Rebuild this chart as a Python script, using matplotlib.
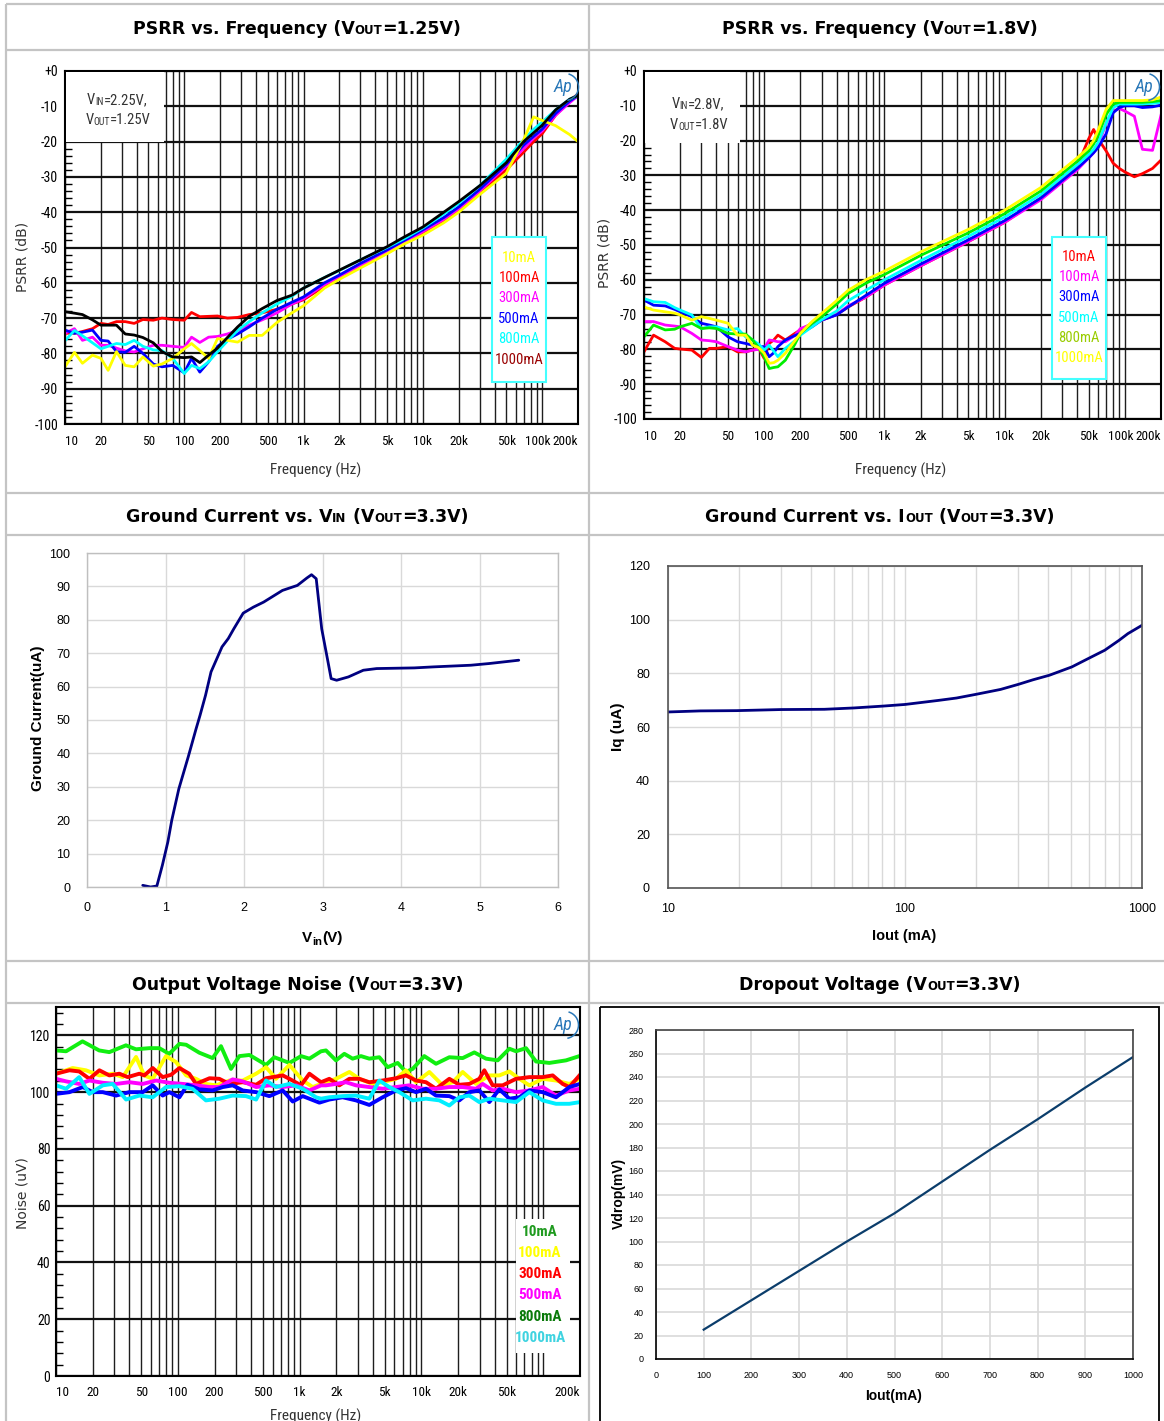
import matplotlib
matplotlib.use('Agg')
import matplotlib.pyplot as plt
from matplotlib import font_manager as fm
from matplotlib.patches import Rectangle, Arc
from matplotlib.ticker import MultipleLocator, NullFormatter, LogLocator
from matplotlib.transforms import ScaledTranslation

# ---------------- DATA ----------------
# Panel 1: PSRR vs Frequency (Vout=1.25V)
p1_freq = [10, 12, 14, 17, 20, 23, 27, 32, 38, 45, 55, 65, 80, 100, 115, 135, 160, 190, 230, 280, 350, 450, 600,
           800, 1000, 1500, 2000, 3000, 5000, 7000, 10000, 15000, 20000, 30000, 50000, 70000, 85000, 100000,
           130000, 170000, 200000]
p1_10mA = [-83.8, -79.7, -82.8, -80.5, -81.4, -84.8, -79.5, -83.4, -83.8, -81.0, -83.6, -83.0, -81.4, -78.7, -77.2,
           -79.2, -81.4, -75.8, -76.3, -76.8, -74.9, -74.9, -71.2, -68.5, -66.5, -61.5, -59.0, -55.8, -51.8, -49.0,
           -46.5, -43.0, -40.0, -35.0, -29.0, -19.5, -13.0, -14.0, -15.5, -18.0, -20.0]
p1_100mA = [-74.3, -74.3, -73.8, -73.0, -71.5, -71.8, -71.0, -71.0, -71.5, -70.4, -70.6, -70.0, -70.4, -70.6, -68.4,
            -69.6, -69.5, -69.4, -70.0, -69.8, -69.0, -68.5, -67.5, -66.0, -64.8, -61.0, -58.6, -55.2, -51.5, -48.8,
            -46.0, -42.5, -39.5, -34.5, -28.0, -23.0, -20.0, -17.8, -12.5, -8.5, -6.5]
p1_300mA = [-74.3, -73.0, -76.3, -75.4, -77.7, -77.7, -78.5, -79.3, -79.6, -78.7, -77.7, -77.7, -78.0, -78.3, -75.4,
            -76.9, -75.4, -75.2, -74.5, -73.5, -72.0, -70.5, -68.5, -66.0, -64.5, -60.5, -58.2, -55.0, -51.2, -48.5,
            -45.5, -42.0, -39.0, -34.0, -27.0, -22.0, -19.0, -17.0, -12.5, -9.0, -7.0]
p1_500mA = [-73.4, -74.3, -74.0, -73.4, -76.3, -76.5, -79.5, -79.7, -78.0, -80.0, -83.0, -83.8, -83.4, -85.5, -81.4,
            -85.3, -82.4, -78.0, -76.0, -74.5, -72.5, -70.0, -67.5, -65.5, -64.0, -60.0, -57.8, -54.5, -50.7, -48.0,
            -45.0, -41.5, -38.5, -33.5, -26.5, -21.0, -18.5, -16.5, -12.0, -8.5, -7.0]
p1_800mA = [-76.4, -73.5, -75.0, -77.0, -78.7, -78.0, -77.2, -77.5, -76.3, -78.0, -79.0, -79.2, -81.4, -85.7, -83.4,
            -84.3, -82.4, -79.5, -76.5, -73.5, -71.0, -68.5, -66.0, -63.8, -61.5, -58.5, -56.5, -53.5, -50.0, -47.5,
            -44.5, -40.5, -37.5, -32.5, -25.0, -19.5, -16.5, -14.5, -11.0, -8.0, -7.0]
p1_1000mA = [-68.2, -68.6, -69.0, -70.5, -72.0, -72.0, -72.0, -74.5, -74.8, -75.5, -77.0, -79.5, -81.0, -81.2, -81.0,
             -82.6, -80.5, -78.5, -75.5, -72.5, -69.5, -67.3, -65.0, -63.5, -61.5, -58.5, -56.4, -53.5, -49.8, -47.0,
             -44.2, -40.0, -37.0, -32.5, -26.0, -20.0, -17.5, -15.4, -11.0, -8.0, -6.9]

# Panel 2: PSRR vs Frequency (Vout=1.8V)
p2_freq = [10, 12, 15, 18, 20, 25, 30, 35, 40, 50, 60, 70, 80, 90, 100, 110, 120, 130, 150, 180, 200, 250, 300, 400,
           500, 700, 1000, 2000, 5000, 10000, 20000, 40000, 50000, 55000, 60000, 70000, 80000, 90000, 100000, 120000,
           140000, 170000, 200000]
p2_10mA = [-80.7, -75.9, -77.8, -79.7, -79.9, -80.2, -82.3, -79.7, -79.7, -79.2, -80.7, -80.7, -80.2, -79.7, -82.6,
           -78.3, -77.3, -75.9, -77.3, -75.4, -74.4, -72.5, -71.6, -70.0, -67.8, -65.0, -61.5,
           -56.0, -49.0, -43.5, -36.5, -27.5, -19.5, -16.8, -19.5, -23.0, -26.5, -28.0, -29.0, -30.4, -29.5, -28.0, -25.6]
p2_100mA = [-72.0, -72.0, -73.0, -73.3, -73.5, -75.4, -77.3, -77.5, -77.8, -79.2, -80.2, -80.7, -80.2, -80.0, -79.7,
            -77.3, -77.5, -77.8, -77.8, -76.0, -74.0, -72.8, -71.6, -70.0, -67.5, -65.0, -61.5,
            -56.0, -49.0, -43.5, -37.0, -28.5, -25.0, -23.5, -21.5, -15.0, -11.5, -10.8, -11.5, -13.0, -22.5, -22.8, -12.7]
p2_300mA = [-65.8, -67.3, -67.5, -68.5, -69.2, -70.6, -72.5, -73.0, -73.5, -76.4, -77.8, -78.3, -78.8, -79.2, -79.2,
            -82.1, -81.0, -79.2, -77.3, -76.0, -75.4, -73.5, -71.6, -70.1, -67.8, -64.5, -61.0,
            -55.5, -48.5, -43.0, -36.5, -28.0, -25.0, -23.5, -22.0, -18.0, -12.0, -10.5, -10.0, -10.0, -10.5, -10.3, -9.8]
p2_500mA = [-65.4, -66.3, -66.5, -68.0, -68.7, -70.1, -74.0, -73.5, -73.5, -74.4, -74.0, -76.4, -77.3, -78.5, -80.2,
            -78.8, -80.5, -82.1, -79.7, -77.5, -75.9, -73.5, -71.5, -69.0, -66.0, -63.0, -60.0,
            -54.5, -47.5, -42.0, -35.5, -27.0, -24.0, -22.5, -20.5, -15.0, -10.5, -9.5, -9.5, -9.5, -9.5, -9.3, -9.0]
p2_800mA = [-76.4, -73.0, -74.4, -74.2, -73.5, -72.5, -74.0, -73.8, -74.0, -75.4, -75.6, -75.6, -77.3, -79.5, -82.1,
            -85.5, -85.2, -85.0, -83.1, -78.5, -75.4, -72.5, -70.6, -67.0, -63.9, -61.0, -58.5,
            -53.0, -46.5, -41.0, -34.5, -26.0, -23.0, -21.0, -18.5, -12.5, -9.5, -9.0, -9.0, -9.0, -9.0, -8.8, -8.5]
p2_1000mA = [-67.8, -68.7, -69.2, -69.6, -70.1, -71.6, -70.6, -71.1, -71.6, -72.5, -75.9, -75.9, -78.8, -79.5, -81.1,
             -84.0, -83.8, -83.1, -81.1, -77.5, -75.4, -72.0, -69.7, -66.0, -63.0, -60.0, -57.5,
             -52.0, -45.5, -40.0, -33.5, -25.0, -22.0, -20.0, -17.0, -11.0, -8.5, -8.5, -8.5, -8.5, -8.5, -8.3, -7.5]

# Panel 3: Ground current vs Vin
gv_vin = [0.71, 0.81, 0.89, 0.96, 0.99, 1.03, 1.08, 1.17, 1.29, 1.39, 1.44, 1.51, 1.58, 1.72, 1.80, 1.87, 1.99, 2.12,
          2.25, 2.49, 2.68, 2.80, 2.86, 2.92, 2.99, 3.07, 3.11, 3.18, 3.33, 3.52, 3.69, 4.17, 4.41, 4.89, 5.12, 5.50]
gv_ignd = [0.5, 0.0, 0.3, 6.5, 9.5, 13.5, 20.0, 29.4, 39.0, 47.4, 51.4, 57.4, 64.4, 71.9, 74.4, 77.3, 82.0, 83.8,
           85.3, 88.8, 90.3, 92.5, 93.5, 92.3, 77.3, 67.4, 62.4, 61.9, 62.9, 64.9, 65.4, 65.6, 65.9, 66.4, 66.9, 67.9]

# Panel 4: Ground current vs Iout
gi_iout = [10, 13.7, 19.5, 29.9, 45.7, 60.9, 81, 100, 138, 165, 200, 253, 301, 347, 407, 506, 593, 696, 800, 872, 1000]
gi_iq = [65.6, 66.0, 66.1, 66.5, 66.6, 67.1, 67.8, 68.4, 69.9, 70.8, 72.2, 74.0, 75.9, 77.6, 79.3, 82.4, 85.5, 88.6,
         92.3, 94.8, 97.9]

# Panel 5: Output voltage noise
n_f_10mA = [10, 12.1, 16.5, 22.6, 27.4, 37.5, 45.3, 58.3, 70.4, 85, 103, 117, 150, 193, 226, 273, 320, 387, 530, 620,
            824, 1027, 1202, 1498, 1644, 1986, 2325, 2721, 3186, 3730, 4506, 5276, 6374, 7458, 8462, 10550, 13150,
            16920, 21780, 27140, 33840, 42210, 52620, 59700, 72100, 87100, 112100, 153600, 197600]
n_v_10mA = [114.7, 114.4, 117.9, 114.7, 114.1, 116.5, 115.1, 115.5, 115.5, 113.5, 117.0, 116.7, 113.9, 112.0, 116.2,
            108.2, 112.7, 113.1, 109.6, 112.3, 110.3, 112.7, 111.8, 114.4, 114.7, 111.2, 113.5, 111.8, 112.7, 111.8,
            112.3, 108.8, 110.3, 107.1, 108.2, 112.7, 110.0, 112.3, 112.0, 114.0, 111.8, 111.2, 115.3, 114.4, 115.5,
            110.8, 110.3, 111.2, 112.7]
n_f_100mA = [10, 13.7, 17.6, 22.7, 29.2, 35.3, 45.4, 53.1, 62.2, 80, 96.7, 117, 141, 170, 206, 265, 341, 439, 530, 640,
             824, 1060, 1280, 1498, 1986, 2556, 3087, 3973, 4800, 6175, 7458, 9012, 11600, 14920, 18020, 21780, 28020,
             36050, 43560, 52620, 63560, 76800, 98800, 127100, 163600, 197600]
n_v_100mA = [106.5, 108.5, 107.7, 105.9, 106.5, 105.3, 112.4, 105.9, 104.7, 112.7, 110.6, 105.9, 104.7, 102.9, 102.4,
             104.1, 104.1, 106.5, 108.8, 104.7, 109.6, 104.1, 101.8, 102.9, 104.7, 107.1, 104.7, 102.9, 103.5, 104.7,
             107.7, 103.5, 107.1, 102.4, 103.5, 107.1, 102.9, 105.9, 105.9, 107.3, 104.7, 102.4, 104.7, 104.1, 102.9,
             104.7]
n_f_300mA = [10, 12.9, 15.5, 18.8, 22.7, 27.4, 33.1, 38.8, 48.3, 53.1, 62.2, 75.1, 87.9, 103, 124, 141, 182, 219, 265,
             341, 439, 530, 726, 824, 1027, 1202, 1498, 1751, 2115, 2556, 3087, 3730, 4800, 6175, 7458, 9012, 10890,
             13150, 16920, 20440, 24700, 29840, 32800, 38390, 46390, 59700, 76800, 98800, 119400, 144200, 163600,
             200000]
n_v_300mA = [106.5, 107.7, 107.3, 104.7, 107.7, 105.9, 106.5, 105.3, 106.5, 105.9, 108.5, 105.3, 106.1, 108.5, 106.5,
             102.9, 104.9, 104.7, 102.9, 103.5, 102.6, 104.9, 105.9, 104.7, 102.4, 106.5, 103.5, 104.7, 102.4, 104.7,
             104.7, 103.5, 104.1, 104.9, 105.9, 104.1, 103.5, 101.2, 104.7, 102.6, 102.9, 104.7, 107.7, 102.4, 102.4,
             104.7, 105.3, 105.3, 105.9, 102.9, 101.8, 106.1]
n_f_500mA = [10, 12.1, 15.5, 18.8, 24.2, 31.1, 40, 51.5, 66.2, 85.2, 110, 141, 182, 219, 282, 341, 439, 564, 726, 934,
             1202, 1498, 1644, 1986, 2400, 2899, 3730, 4800, 6175, 7945, 10220, 13150, 16920, 21780, 28020, 31780,
             38390, 46390, 59700, 76800, 98800, 127100, 163600, 200000]
n_v_500mA = [104.7, 103.8, 102.9, 104.1, 103.3, 102.9, 103.5, 102.9, 104.1, 103.3, 102.9, 102.4, 101.8, 101.8, 104.5,
             103.8, 101.8, 102.4, 101.8, 102.4, 100.6, 102.4, 102.4, 102.9, 103.5, 102.4, 101.8, 101.2, 101.8, 102.4,
             101.2, 101.2, 101.8, 101.8, 101.2, 102.9, 100.6, 101.2, 100.0, 100.6, 101.8, 98.8, 100.6, 101.2]
n_f_800mA = [10, 12.9, 16.6, 20, 24.2, 31.1, 40, 51.5, 62.2, 75.1, 85.2, 103, 120, 150, 193, 234, 282, 341, 439, 564,
             726, 877, 1060, 1452, 1751, 2253, 2899, 3730, 4800, 6175, 7458, 9012, 10890, 13150, 16920, 20440, 24700,
             29840, 36050, 43560, 52620, 63560, 76800, 98800, 127100, 163600, 200000]
n_v_800mA = [99.4, 100.0, 101.8, 100.0, 100.0, 98.8, 100.0, 100.0, 102.4, 98.8, 100.0, 98.2, 102.6, 101.0, 100.6,
             101.8, 102.4, 100.6, 100.0, 98.6, 100.6, 96.7, 98.6, 96.3, 97.4, 98.2, 97.1, 95.5, 98.2, 100.6, 101.4,
             100.0, 101.2, 98.8, 98.6, 97.1, 100.0, 100.6, 96.5, 101.0, 97.7, 98.2, 100.6, 100.0, 98.2, 101.8, 102.9]
n_f_1000mA = [10, 12.1, 15.5, 18.8, 24.2, 29.2, 37.6, 48.3, 62.2, 80, 103, 132, 170, 219, 282, 363, 439, 530, 640, 824,
              1060, 1363, 1498, 1751, 2253, 2899, 3730, 4506, 5444, 6577, 8462, 10890, 14010, 16920, 20440, 24700,
              29840, 36050, 46390, 59700, 76800, 98800, 127100, 163600, 200000]
n_v_1000mA = [102.4, 101.2, 105.3, 99.4, 102.4, 102.9, 97.4, 98.8, 98.2, 101.8, 102.1, 101.2, 97.1, 97.7, 98.8, 98.6,
              97.4, 104.1, 101.8, 102.9, 101.2, 98.2, 97.7, 98.2, 98.6, 98.8, 97.7, 104.1, 101.8, 100.0, 97.1, 97.7,
              97.1, 95.3, 98.2, 98.8, 96.5, 97.7, 97.1, 96.5, 100.0, 97.1, 95.9, 95.9, 96.5]

# Panel 6: Dropout voltage
dv_iout = [100, 200, 300, 400, 500, 600, 700, 800, 900, 1000]
dv_vdrop = [25, 50, 75, 100, 124, 151, 178, 204, 231, 257]

# Tick labels
psrr_xticks = [10, 20, 50, 100, 200, 500, 1000, 2000, 5000, 10000, 20000, 50000, 100000, 200000]
psrr_xlabels = ['10', '20', '50', '100', '200', '500', '1k', '2k', '5k', '10k', '20k', '50k', '100k', '200k']
noise_xticks = [10, 20, 50, 100, 200, 500, 1000, 2000, 5000, 10000, 20000, 50000, 200000]
noise_xlabels = ['10', '20', '50', '100', '200', '500', '1k', '2k', '5k', '10k', '20k', '50k', '200k']
psrr_yticks = [0, -10, -20, -30, -40, -50, -60, -70, -80, -90, -100]
psrr_ylabels = ['+0', '-10', '-20', '-30', '-40', '-50', '-60', '-70', '-80', '-90', '-100']

# ---------------- FONTS ----------------
_fonts = fm.fontManager.ttflist
_names = {f.name for f in _fonts}
_cands = [n for n in ['Liberation Sans Narrow', 'Arial Narrow', 'Roboto Condensed', 'Open Sans Condensed']
          if n in _names]
if _cands:
    NF = dict(family=[_cands[0], 'DejaVu Sans'], stretch='normal')
elif any(f.name == 'DejaVu Sans' and str(f.stretch) in ('condensed', 'semi-condensed') for f in _fonts):
    NF = dict(family=['DejaVu Sans'], stretch='condensed')
else:
    NF = dict(family=['Liberation Sans', 'DejaVu Sans'], stretch='normal')
ARIAL = ['Liberation Sans', 'DejaVu Sans']
TITLEF = ['DejaVu Sans']

# ---------------- FIGURE ----------------
W, H = 1164, 1421
fig = plt.figure(figsize=(W / 100, H / 100), dpi=100)
fig.patch.set_facecolor('white')


def add_ax(l, t, r, b):
    return fig.add_axes([l / W, 1 - b / H, (r - l) / W, (b - t) / H])


ov = fig.add_axes([0, 0, 1, 1], zorder=20)
ov.set_xlim(0, W)
ov.set_ylim(H, 0)
ov.axis('off')
renderer = fig.canvas.get_renderer()


def rich(xc, yb, parts, **kw):
    texts, ws = [], []
    for s, fs, dy in parts:
        t = ov.text(0, yb + dy, s, fontsize=fs, va='baseline', ha='left', **kw)
        ws.append(t.get_window_extent(renderer).width)
        texts.append(t)
    x = xc - sum(ws) / 2
    for t, w in zip(texts, ws):
        t.set_x(x)
        x += w


# table lines
GRAY = '#c4c4c4'
for y in [4, 50, 493, 535, 961, 1003]:
    ov.plot([6, W], [y, y], color=GRAY, lw=1.6, solid_capstyle='butt')
for x in [6, 589]:
    ov.plot([x, x], [4, H], color=GRAY, lw=1.6, solid_capstyle='butt')

# titles
TS, SS = 12.5, 8.5
tk = dict(family=TITLEF, weight='bold', color='black')
rich(297, 34, [("PSRR vs. Frequency (V", TS, 0), ("OUT", SS, 0.5), ("=1.25V)", TS, 0)], **tk)
rich(880, 34, [("PSRR vs. Frequency (V", TS, 0), ("OUT", SS, 0.5), ("=1.8V)", TS, 0)], **tk)
rich(297, 522, [("Ground Current vs. V", TS, 0), ("IN", SS, 0.5), (" (V", TS, 0), ("OUT", SS, 0.5),
                ("=3.3V)", TS, 0)], **tk)
rich(880, 522, [("Ground Current vs. I", TS, 0), ("OUT", SS, 0.5), (" (V", TS, 0), ("OUT", SS, 0.5),
                ("=3.3V)", TS, 0)], **tk)
rich(298, 990, [("Output Voltage Noise (V", TS, 0), ("OUT", SS, 0.5), ("=3.3V)", TS, 0)], **tk)
rich(880, 990, [("Dropout Voltage (V", TS, 0), ("OUT", SS, 0.5), ("=3.3V)", TS, 0)], **tk)


def ap_logo(x, y):
    ov.text(x, y, 'Ap', fontsize=13, style='italic', color='#2a78b8', ha='center', va='center', **NF)
    ov.add_patch(Arc((x + 2, y), 27, 27, theta1=-75, theta2=80, color='#2a78b8', lw=1.1))


def ap_axes(ax, xt, xl, ylim, yt, yl, yminor, xpad, ypad):
    ax.set_xscale('log')
    ax.set_xlim(10, 200000)
    ax.set_ylim(*ylim)
    ax.set_xticks(xt, labels=xl)
    ax.xaxis.set_minor_locator(LogLocator(base=10, subs=range(1, 10), numticks=60))
    ax.xaxis.set_minor_formatter(NullFormatter())
    ax.set_yticks(yt, labels=yl)
    ax.yaxis.set_minor_locator(MultipleLocator(yminor))
    ax.grid(True, axis='x', which='both', color='#1e1e1e', lw=1.0)
    ax.grid(True, axis='y', which='major', color='#111111', lw=1.6)
    ax.tick_params(axis='x', which='both', length=0, pad=xpad, labelsize=9.5)
    ax.tick_params(axis='y', which='major', length=0, pad=ypad, labelsize=10)
    ax.tick_params(axis='y', which='minor', direction='in', length=5, width=1, color='black')
    for lab in ax.get_xticklabels() + ax.get_yticklabels():
        lab.set_family(NF['family'])
        lab.set_stretch(NF['stretch'])
    labs = ax.get_xticklabels()
    labs[0].set_ha('left')
    labs[-1].set_ha('right')
    if xl[-2] == '100k':
        labs[-2].set_transform(labs[-2].get_transform() + ScaledTranslation(-3 / 72, 0, fig.dpi_scale_trans))
    for s in ax.spines.values():
        s.set_color('black')
        s.set_linewidth(1.5)
    ax.set_axisbelow(True)


# ---------- Panel 1 ----------
ax1 = add_ax(65, 71, 578, 424)
ap_axes(ax1, psrr_xticks, psrr_xlabels, (-100, 0), psrr_yticks, psrr_ylabels, 2, 8, 5)
LW = 2.0
ax1.plot(p1_freq, p1_100mA, color='#ff0000', lw=LW)
ax1.plot(p1_freq, p1_300mA, color='#ff00ff', lw=LW)
ax1.plot(p1_freq, p1_500mA, color='#0000ff', lw=LW)
ax1.plot(p1_freq, p1_800mA, color='#00ffff', lw=LW)
ax1.plot(p1_freq, p1_10mA, color='#ffff00', lw=LW)
ax1.plot(p1_freq, p1_1000mA, color='#000000', lw=LW)

ov.add_patch(Rectangle((66, 72), 98, 70, facecolor='white', edgecolor='none'))
rich(117, 104, [("V", 10.5, 0), ("IN", 7, 1), ("=2.25V,", 10.5, 0)], color='#333333', **NF)
rich(118, 124, [("V", 10.5, 0), ("OUT", 7, 1), ("=1.25V", 10.5, 0)], color='#333333', **NF)
ov.add_patch(Rectangle((492, 237), 54, 145, facecolor='white', edgecolor='#44ffff', lw=1.5))
for txt, col, yy in zip(['10mA', '100mA', '300mA', '500mA', '800mA', '1000mA'],
                        ['#ffff00', '#ff0000', '#ff00ff', '#0000ff', '#00ffff', '#990000'],
                        [258, 278, 298, 319, 339, 360]):
    ov.text(519, yy, txt, color=col, fontsize=10.5, ha='center', va='center', **NF)
ap_logo(563, 87)
ov.text(23, 257, 'PSRR (dB)', rotation=90, ha='center', va='center', fontsize=10, color='#333333',
        family=TITLEF)
ov.text(316, 470, 'Frequency (Hz)', ha='center', va='center', fontsize=11, color='#333333', **NF)

# ---------- Panel 2 ----------
ax2 = add_ax(644, 71, 1161, 419)
ap_axes(ax2, psrr_xticks, psrr_xlabels, (-100, 0), psrr_yticks, psrr_ylabels, 2, 8, 5)
ax2.plot(p2_freq, p2_10mA, color='#ff0000', lw=LW)
ax2.plot(p2_freq, p2_100mA, color='#ff00ff', lw=LW)
ax2.plot(p2_freq, p2_300mA, color='#0000ff', lw=LW)
ax2.plot(p2_freq, p2_500mA, color='#00ffff', lw=LW)
ax2.plot(p2_freq, p2_800mA, color='#00ee00', lw=LW)
ax2.plot(p2_freq, p2_1000mA, color='#ffff00', lw=LW)

ov.add_patch(Rectangle((645, 72), 95, 71, facecolor='white', edgecolor='none'))
rich(698, 108, [("V", 10.5, 0), ("IN", 7, 1), ("=2.8V,", 10.5, 0)], color='#333333', **NF)
rich(699, 129, [("V", 10.5, 0), ("OUT", 7, 1), ("=1.8V", 10.5, 0)], color='#333333', **NF)
ov.add_patch(Rectangle((1052, 237), 54, 142, facecolor='white', edgecolor='#44ffff', lw=1.5))
for txt, col, yy in zip(['10mA', '100mA', '300mA', '500mA', '800mA', '1000mA'],
                        ['#ff0000', '#ff00ff', '#0000ff', '#00ffff', '#99cc00', '#ffff00'],
                        [257, 277, 297, 318, 338, 358]):
    ov.text(1079, yy, txt, color=col, fontsize=10.5, ha='center', va='center', **NF)
ap_logo(1144, 87)
ov.text(605, 253, 'PSRR (dB)', rotation=90, ha='center', va='center', fontsize=10, color='#333333',
        family=TITLEF)
ov.text(901, 470, 'Frequency (Hz)', ha='center', va='center', fontsize=11, color='#333333', **NF)

# ---------- Panel 3 ----------
ax3 = add_ax(87, 553, 558, 887)
ax3.set_xlim(0, 6)
ax3.set_ylim(0, 100)
ax3.xaxis.set_major_locator(MultipleLocator(1))
ax3.yaxis.set_major_locator(MultipleLocator(10))
ax3.grid(True, color='#d9d9d9', lw=1.0)
ax3.set_axisbelow(True)
ax3.tick_params(length=0, labelsize=9)
ax3.tick_params(axis='y', pad=12)
ax3.tick_params(axis='x', pad=11)
for lab in ax3.get_xticklabels() + ax3.get_yticklabels():
    lab.set_family(ARIAL)
for s in ax3.spines.values():
    s.set_color('#bfbfbf')
    s.set_linewidth(1.0)
ax3.plot(gv_vin, gv_ignd, color='#000080', lw=2.0, solid_joinstyle='round', solid_capstyle='round')
ov.text(38, 718, 'Ground Current(uA)', rotation=90, ha='center', va='center', fontsize=11, weight='bold',
        family=ARIAL)
rich(322, 942, [("V", 11, 0), ("in", 8, 3), ("(V)", 11, 0)], family=ARIAL, weight='bold')

# ---------- Panel 4 ----------
ax4 = add_ax(668, 566, 1142, 888)
ax4.set_xscale('log')
ax4.set_xlim(10, 1000)
ax4.set_ylim(0, 120)
ax4.set_xticks([10, 100, 1000], labels=['10', '100', '1000'])
ax4.xaxis.set_minor_locator(LogLocator(base=10, subs=range(2, 10), numticks=30))
ax4.xaxis.set_minor_formatter(NullFormatter())
ax4.yaxis.set_major_locator(MultipleLocator(20))
ax4.grid(True, which='both', axis='x', color='#d9d9d9', lw=1.0)
ax4.grid(True, which='major', axis='y', color='#d9d9d9', lw=1.0)
ax4.set_axisbelow(True)
ax4.tick_params(which='both', length=0, labelsize=9)
ax4.tick_params(axis='y', pad=13)
ax4.tick_params(axis='x', pad=11)
for lab in ax4.get_xticklabels() + ax4.get_yticklabels():
    lab.set_family(ARIAL)
for s in ax4.spines.values():
    s.set_color('#555555')
    s.set_linewidth(1.2)
ax4.plot(gi_iout, gi_iq, color='#000080', lw=2.0, solid_joinstyle='round')
ov.text(618, 727, 'Iq (uA)', rotation=90, ha='center', va='center', fontsize=11, weight='bold', family=ARIAL)
ov.text(904, 936, 'Iout (mA)', ha='center', va='center', fontsize=10.5, weight='bold', family=ARIAL)

# ---------- Panel 5 ----------
ax5 = add_ax(56, 1007, 580, 1376)
ap_axes(ax5, noise_xticks, noise_xlabels, (0, 130), [0, 20, 40, 60, 80, 100, 120],
        ['0', '20', '40', '60', '80', '100', '120'], 4, 7, 4)
NLW = 2.8
ax5.plot(n_f_10mA, n_v_10mA, color='#11ee11', lw=NLW)
ax5.plot(n_f_100mA, n_v_100mA, color='#ffff00', lw=NLW)
ax5.plot(n_f_300mA, n_v_300mA, color='#ff0000', lw=NLW)
ax5.plot(n_f_500mA, n_v_500mA, color='#ff00ff', lw=NLW)
ax5.plot(n_f_800mA, n_v_800mA, color='#0000ff', lw=NLW)
ax5.plot(n_f_1000mA, n_v_1000mA, color='#00eeff', lw=NLW)
ov.add_patch(Rectangle((516, 1219), 54, 134, facecolor='white', edgecolor='none'))
for txt, col, yy in zip(['10mA', '100mA', '300mA', '500mA', '800mA', '1000mA'],
                        ['#1f9a1f', '#ffff00', '#ff0000', '#ff00ff', '#0a7a0a', '#3fd3e0'],
                        [1232, 1253, 1274, 1295, 1317, 1338]):
    ov.text(540, yy, txt, color=col, fontsize=11, weight='bold', ha='center', va='center', **NF)
ap_logo(563, 1025)
ov.text(23, 1193, 'Noise (uV)', rotation=90, ha='center', va='center', fontsize=10, color='#333333',
        family=TITLEF)
ov.text(316, 1416, 'Frequency (Hz)', ha='center', va='center', fontsize=11, color='#333333', **NF)

# ---------- Panel 6 ----------
ov.add_patch(Rectangle((600, 1007), 559, 440, fill=False, edgecolor='black', lw=1.3))
ax6 = add_ax(656, 1030, 1133, 1359)
ax6.set_xlim(0, 1000)
ax6.set_ylim(0, 280)
ax6.xaxis.set_major_locator(MultipleLocator(100))
ax6.yaxis.set_major_locator(MultipleLocator(20))
ax6.grid(True, color='#d9d9d9', lw=1.2)
ax6.set_axisbelow(True)
ax6.tick_params(length=0, labelsize=6.5, pad=9)
for lab in ax6.get_xticklabels() + ax6.get_yticklabels():
    lab.set_family(ARIAL)
for k, s in ax6.spines.items():
    s.set_color('black' if k in ('left', 'bottom') else '#444444')
    s.set_linewidth(1.2)
ax6.plot(dv_iout, dv_vdrop, color='#0b3d6b', lw=1.6)
ov.text(619, 1193, 'Vdrop(mV)', rotation=90, ha='center', va='center', fontsize=10, weight='bold',
        family=ARIAL)
ov.text(894, 1396, 'Iout(mA)', ha='center', va='center', fontsize=10, weight='bold', family=ARIAL)

fig.savefig('out.png', dpi=100, facecolor='white')
